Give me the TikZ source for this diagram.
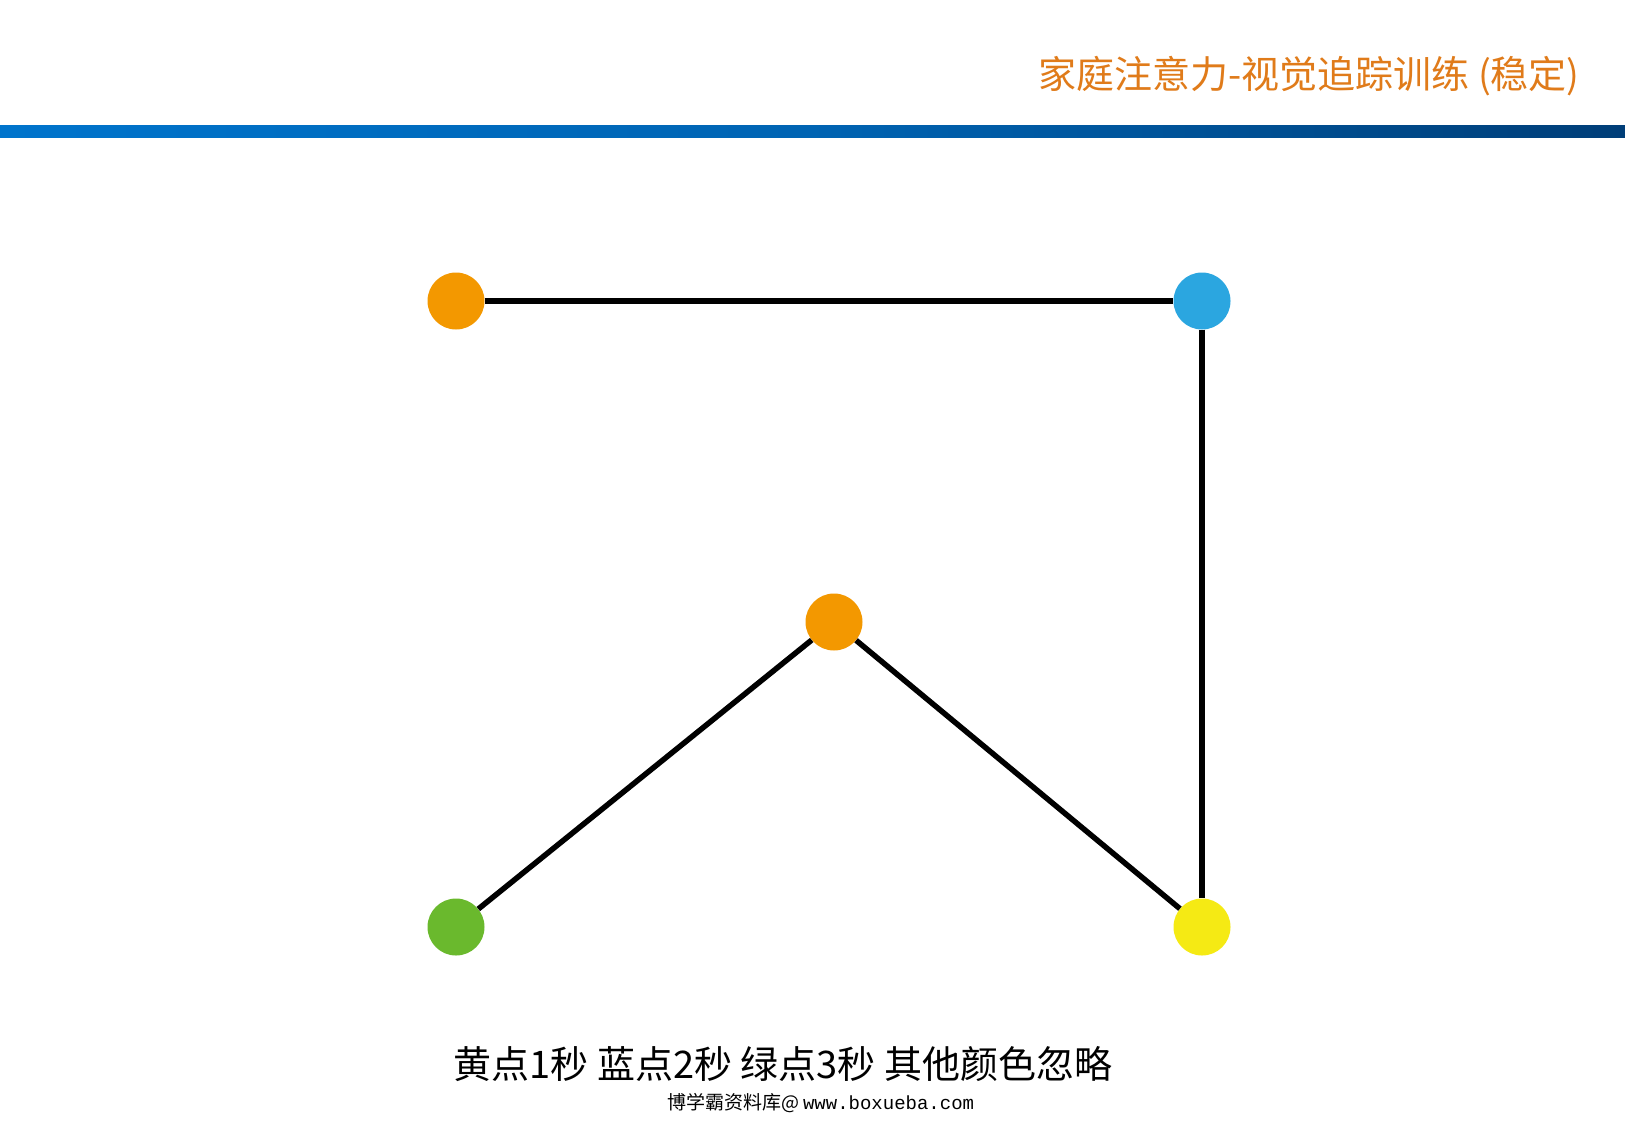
\documentclass[tikz,border=0pt]{standalone}
\usepackage{fontspec}
\newfontfamily\cjk{Noto Sans CJK SC}
\newfontfamily\wmono{Liberation Mono}
\definecolor{dotorange}{HTML}{F39800}
\definecolor{dotblue}{HTML}{2BA6E0}
\definecolor{dotgreen}{HTML}{6AB92D}
\definecolor{dotyellow}{HTML}{F5EA14}
\definecolor{titleorange}{HTML}{E07B1A}
\definecolor{bandleft}{HTML}{0074CC}
\definecolor{bandright}{HTML}{003E78}
\tikzset{
  dot/.style={circle, minimum size=57pt, inner sep=0pt, draw=none},
  link/.style={line width=5.5pt, black},
}
\begin{document}
\begin{tikzpicture}[x=1pt,y=-1pt]
\useasboundingbox (0,0) rectangle (1625,1125);
\fill[white] (0,0) rectangle (1625,1125);
% top band
\shade[left color=bandleft, right color=bandright, middle color=bandleft!70!bandright] (0,125) rectangle (1625,137);
% title
\node[anchor=east, inner sep=0pt, text=titleorange, font=\cjk\fontsize{38}{40}\selectfont] (title) at (1580,76) {家庭注意力-视觉追踪训练 (稳定)};
% dots
\node[dot, fill=dotorange] (o1) at (456,301) {};
\node[dot, fill=dotblue] (b) at (1202,301) {};
\node[dot, fill=dotorange] (o2) at (834,622) {};
\node[dot, fill=dotgreen] (g) at (456,927) {};
\node[dot, fill=dotyellow] (y) at (1202,927) {};
% links
\draw[link] (o1) -- (b);
\draw[link] (b) -- (y);
\draw[link] (y) -- (o2);
\draw[link] (o2) -- (g);
% captions
\node[inner sep=0pt, font=\cjk\fontsize{38}{40}\selectfont] (cap) at (783,1064) {黄点1秒 蓝点2秒 绿点3秒 其他颜色忽略};
\node[inner sep=0pt, font=\fontsize{19}{21}\selectfont] (wm) at (821,1103) {{\cjk 博学霸资料库@}\,{\wmono www.boxueba.com}};
\end{tikzpicture}
\end{document}
